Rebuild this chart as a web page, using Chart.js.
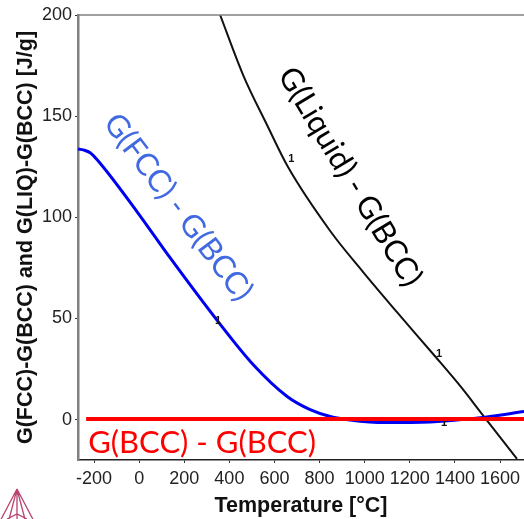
<!DOCTYPE html>
<html>
<head>
<meta charset="utf-8">
<title>Gibbs energy differences</title>
<script src="https://cdn.jsdelivr.net/npm/chart.js@4"></script>
<style>
  html, body { margin: 0; padding: 0; background: #fff; overflow: hidden; }
  #wrap { position: relative; width: 524px; height: 519px; }
</style>
</head>
<body>
<div id="wrap"><canvas id="chart"></canvas></div>
<script>
const xTicks = [-200, 0, 200, 400, 600, 800, 1000, 1200, 1400, 1600];
const yTicks = [0, 50, 100, 150, 200];

const fccT = [-271, -239, -217, -186, -9, 137, 350, 505, 656, 758, 847, 935, 1090, 1290, 1534, 1706];
const fccG = [133.8, 133, 131.9, 128.4, 102.7, 80, 48.4, 27.2, 11.4, 4.9, 1.5, -0.2, -1.5, -1.2, 1.2, 4];

const liquidT = [359, 461, 567, 660, 847, 993, 1143, 1303, 1423, 1520, 1675];
const liquidG = [200, 170.3, 145.6, 124.8, 93.2, 72.9, 53.1, 32.4, 16.6, 2.7, -19.5];

const bccT = [-235, 1706];
const bccG = [0.3, 0.3];

// little "1" curve labels of the original plot
const markT = [674, 1330, 350, 1352];
const markG = [129, 32.6, 48.5, -1.5];

const notes = [
  { text: 'G(FCC) - G(BCC)', t: 173, g: 105, angle: 53, color: '#4169e1' },
  { text: 'G(Liquid) - G(BCC)', t: 935, g: 120, angle: 59, color: '#000' },
  { text: 'G(BCC) - G(BCC)', t: 279, g: -11.4, angle: 0, color: '#ff0000' }
];

function toPoints(xs, ys){
    return xs.map((x, i) => ({ x: x, y: ys[i] }));
}

const curveMarks = {
    id: 'curveMarks',
    afterDatasetDraw(chart, args){
        // after the blue line, before the red one, the last mark hides under red
        if(args.index !== 1) return;
        const c = chart.ctx;
        c.save();
        c.font = 'bold 11px "Liberation Sans"';
        c.fillStyle = '#111';
        c.textAlign = 'center';
        c.textBaseline = 'middle';
        markT.forEach((t, i) => {
            c.fillText('1', chart.scales.x.getPixelForValue(t), chart.scales.y.getPixelForValue(markG[i]));
        });
        c.restore();
    }
};

const frameAndText = {
    id: 'frameAndText',
    afterDraw(chart){
        const c = chart.ctx;
        const area = chart.chartArea;

        c.save();
        c.strokeStyle = '#808080';
        c.lineWidth = 1.5;
        c.beginPath();
        c.moveTo(area.left, area.top);
        c.lineTo(area.right, area.top);
        c.stroke();
        c.restore();

        for(const n of notes){
            c.save();
            c.translate(chart.scales.x.getPixelForValue(n.t), chart.scales.y.getPixelForValue(n.g));
            c.rotate(n.angle * Math.PI / 180);
            c.font = '31px Lato';
            c.fillStyle = n.color;
            c.textAlign = 'center';
            c.textBaseline = 'middle';
            c.fillText(n.text, 0, 0);
            c.restore();
        }

        drawLogo(c);
    }
};

function drawLogo(c){
    c.save();
    c.beginPath();
    c.rect(0, 470, 60, 49);
    c.clip();
    c.strokeStyle = '#b8436f';
    c.lineWidth = 1.3;
    c.beginPath();
    c.moveTo(17, 489); c.lineTo(-3, 527);
    c.moveTo(17, 489); c.lineTo(37, 527);
    c.moveTo(17, 489); c.lineTo(7, 527);
    c.moveTo(17, 489); c.lineTo(27, 527);
    c.moveTo(17, 489); c.lineTo(17, 519);
    c.moveTo(7, 519); c.lineTo(17, 514); c.lineTo(27, 519);
    c.stroke();
    c.restore();
}

new Chart(document.getElementById('chart'), {
    type: 'scatter',
    data: {
        datasets: [
            {
                label: 'G(BCC) - G(BCC)',
                data: toPoints(bccT, bccG),
                showLine: true,
                borderColor: '#ff0000',
                borderWidth: 4,
                pointRadius: 0
            },
            {
                label: 'G(FCC) - G(BCC)',
                data: toPoints(fccT, fccG),
                showLine: true,
                borderColor: '#0000f0',
                borderWidth: 3,
                pointRadius: 0,
                cubicInterpolationMode: 'monotone'
            },
            {
                label: 'G(Liquid) - G(BCC)',
                data: toPoints(liquidT, liquidG),
                showLine: true,
                borderColor: '#111',
                borderWidth: 2,
                pointRadius: 0,
                cubicInterpolationMode: 'monotone'
            }
        ]
    },
    options: {
        responsive: true,
        maintainAspectRatio: false,
        animation: false,
        layout: { padding: { top: 15, right: 0, bottom: 0, left: 0 } },
        plugins: {
            legend: { display: false },
            tooltip: { enabled: false }
        },
        scales: {
            x: {
                type: 'linear',
                min: -271,
                max: 1706,
                afterBuildTicks: axis => { axis.ticks = xTicks.map(v => ({ value: v })); },
                afterFit: axis => {
                    axis.height = 59;
                    axis.paddingLeft = 0;
                    axis.paddingRight = 0;
                },
                border: { color: '#222', width: 1.5 },
                grid: { display: true, drawOnChartArea: false, drawTicks: true, tickLength: 3, color: '#333' },
                ticks: {
                    color: '#222',
                    maxRotation: 0,
                    autoSkip: false,
                    padding: 5,
                    font: { family: '"Liberation Sans"', size: 18 },
                    callback: v => String(v)
                },
                title: {
                    display: true,
                    text: 'Temperature [°C]',
                    color: '#111',
                    padding: { top: 0, bottom: 0 },
                    font: { family: '"Liberation Sans"', size: 21.5, weight: 'bold' }
                }
            },
            y: {
                min: -20,
                max: 200,
                afterBuildTicks: axis => { axis.ticks = yTicks.map(v => ({ value: v })); },
                afterFit: axis => { axis.width = 78; },
                border: { color: '#808080', width: 2.5 },
                grid: { display: true, drawOnChartArea: false, drawTicks: true, tickLength: 3, color: '#333' },
                ticks: {
                    color: '#222',
                    autoSkip: false,
                    padding: 3,
                    font: { family: '"Liberation Sans"', size: 18 },
                    callback: v => String(v)
                },
                title: {
                    display: true,
                    text: 'G(FCC)-G(BCC) and G(LIQ)-G(BCC) [J/g]',
                    color: '#111',
                    padding: { top: 13, bottom: 0 },
                    font: { family: '"Liberation Sans"', size: 21.5, weight: 'bold' }
                }
            }
        }
    },
    plugins: [curveMarks, frameAndText]
});
</script>
</body>
</html>
